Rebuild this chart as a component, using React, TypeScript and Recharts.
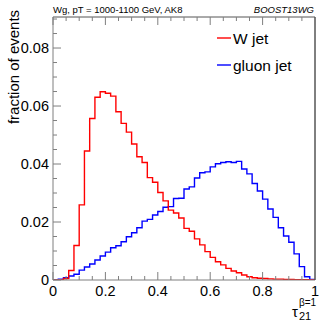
import { LineChart, Line, XAxis, YAxis } from 'recharts';

// lower edges of the 50 bins (width 0.02)
const BIN_LOW = [
  0, 0.02, 0.04, 0.06, 0.08, 0.1, 0.12, 0.14, 0.16, 0.18,
  0.2, 0.22, 0.24, 0.26, 0.28, 0.3, 0.32, 0.34, 0.36, 0.38,
  0.4, 0.42, 0.44, 0.46, 0.48, 0.5, 0.52, 0.54, 0.56, 0.58,
  0.6, 0.62, 0.64, 0.66, 0.68, 0.7, 0.72, 0.74, 0.76, 0.78,
  0.8, 0.82, 0.84, 0.86, 0.88, 0.9, 0.92, 0.94, 0.96, 0.98,
];
const X_END = 1;

const W_JET = [
  0, 0, 0.0005, 0.0033, 0.0119, 0.0259, 0.0445, 0.0557, 0.063, 0.0649,
  0.0644, 0.0634, 0.058, 0.054, 0.051, 0.0469, 0.0425, 0.0405, 0.0353, 0.0337,
  0.0302, 0.0273, 0.0241, 0.0231, 0.0214, 0.0178, 0.0168, 0.0142, 0.0121, 0.0098,
  0.0078, 0.0063, 0.0052, 0.004, 0.0031, 0.0025, 0.0017, 0.0011, 0.0008, 0.0006,
  0.0005, 0.0004, 0.0003, 0.0003, 0.0002, 0.0002, 0.0001, 0.0001, 0.0001, 0,
];

const GLUON_JET = [
  0.0001, 0.0003, 0.0008, 0.0014, 0.002, 0.0034, 0.0045, 0.0055, 0.0069, 0.0083,
  0.0096, 0.0111, 0.0118, 0.0132, 0.0149, 0.0163, 0.018, 0.0203, 0.0209, 0.0224,
  0.0236, 0.0251, 0.0253, 0.0281, 0.0282, 0.0314, 0.0321, 0.0352, 0.037, 0.0373,
  0.039, 0.0401, 0.0405, 0.0408, 0.0405, 0.0409, 0.0383, 0.0366, 0.0333, 0.0307,
  0.0279, 0.0245, 0.0216, 0.018, 0.0152, 0.013, 0.009, 0.0046, 0.0011, 0.0002,
];

const X_TICKS = [
  0, 0.05, 0.1, 0.15, 0.2, 0.25, 0.3, 0.35, 0.4, 0.45, 0.5,
  0.55, 0.6, 0.65, 0.7, 0.75, 0.8, 0.85, 0.9, 0.95, 1,
];
const X_LABELS = [
  '0', '', '', '', '0.2', '', '', '', '0.4', '', '',
  '', '0.6', '', '', '', '0.8', '', '', '', '1',
];
const Y_TICKS = [
  0, 0.005, 0.01, 0.015, 0.02, 0.025, 0.03, 0.035, 0.04, 0.045,
  0.05, 0.055, 0.06, 0.065, 0.07, 0.075, 0.08, 0.085, 0.09,
];
const Y_LABELS = [
  '0', '', '', '', '0.02', '', '', '', '0.04', '',
  '', '', '0.06', '', '', '', '0.08', '', '',
];
const Y_MAX = 0.0907;

const FONT = '"Liberation Sans", Arial, Helvetica, sans-serif';
const AXIS_GREY = '#7f7f7f';

const data = [
  ...BIN_LOW.map((x, i) => ({ x, w: W_JET[i], g: GLUON_JET[i] })),
  { x: X_END, w: W_JET[W_JET.length - 1], g: GLUON_JET[GLUON_JET.length - 1] },
];

const isMajorX = (i: number) => X_LABELS[i] !== '';
const isMajorY = (i: number) => Y_LABELS[i] !== '';

function BottomTick({ x, y, index }: any) {
  const major = isMajorX(index);
  return (
    <g>
      <line x1={x} x2={x} y1={y} y2={y - (major ? 8 : 4)} stroke={AXIS_GREY} />
      {major && (
        <text x={x} y={y + 16} textAnchor="middle" fontSize={14.5} fontFamily={FONT} fill="#000">
          {X_LABELS[index]}
        </text>
      )}
    </g>
  );
}

function TopTick({ x, y, index }: any) {
  const major = isMajorX(index);
  return <line x1={x} x2={x} y1={y} y2={y + (major ? 8 : 4)} stroke={AXIS_GREY} />;
}

function LeftTick({ x, y, index }: any) {
  const major = isMajorY(index);
  return (
    <g>
      <line x1={x} x2={x + (major ? 8 : 4)} y1={y} y2={y} stroke={AXIS_GREY} />
      {major && (
        <text x={x - 4} y={y + 5} textAnchor="end" fontSize={14.5} fontFamily={FONT} fill="#000">
          {Y_LABELS[index]}
        </text>
      )}
    </g>
  );
}

function RightTick({ x, y, index }: any) {
  const major = isMajorY(index);
  return <line x1={x} x2={x - (major ? 8 : 4)} y1={y} y2={y} stroke={AXIS_GREY} />;
}

export default function App() {
  return (
    <div style={{ position: 'absolute', left: 0, top: 0, width: 332, height: 322, background: '#fff' }}>
      <LineChart
        width={332}
        height={322}
        data={data}
        margin={{ top: 16, right: 16, bottom: 41, left: 52 }}
      >
        <XAxis
          xAxisId="b"
          dataKey="x"
          type="number"
          domain={[0, 1]}
          ticks={X_TICKS}
          interval={0}
          height={1}
          tickSize={0}
          tickMargin={0}
          tick={<BottomTick />}
          axisLine={{ stroke: AXIS_GREY }}
          allowDataOverflow
        />
        <XAxis
          xAxisId="t"
          orientation="top"
          dataKey="x"
          type="number"
          domain={[0, 1]}
          ticks={X_TICKS}
          interval={0}
          height={1}
          tickSize={0}
          tickMargin={0}
          tick={<TopTick />}
          axisLine={{ stroke: '#555' }}
        />
        <YAxis
          yAxisId="l"
          type="number"
          domain={[0, Y_MAX]}
          ticks={Y_TICKS}
          interval={0}
          width={1}
          tickSize={0}
          tickMargin={0}
          tick={<LeftTick />}
          axisLine={{ stroke: AXIS_GREY }}
          allowDataOverflow
        />
        <YAxis
          yAxisId="r"
          orientation="right"
          type="number"
          domain={[0, Y_MAX]}
          ticks={Y_TICKS}
          interval={0}
          width={1}
          tickSize={0}
          tickMargin={0}
          tick={<RightTick />}
          axisLine={{ stroke: '#000' }}
        />
        <Line xAxisId="b" yAxisId="l" type="stepAfter" dataKey="g" stroke="#0000ff" strokeWidth={1.4} dot={false} isAnimationActive={false} />
        <Line xAxisId="b" yAxisId="l" type="stepAfter" dataKey="w" stroke="#ff0000" strokeWidth={1.4} dot={false} isAnimationActive={false} />
      </LineChart>
      <svg width={332} height={322} style={{ position: 'absolute', left: 0, top: 0, pointerEvents: 'none' }}>
        <text x={53} y={13} fontSize={9.5} fontFamily={FONT} fill="#000">Wg, pT = 1000-1100 GeV, AK8</text>
        <text x={314} y={13} fontSize={9.5} fontFamily={FONT} fontStyle="italic" textAnchor="end" fill="#000">BOOST13WG</text>
        <text x={19} y={67} fontSize={15} fontFamily={FONT} textAnchor="middle" transform="rotate(-90 19 67)" fill="#000">fraction of events</text>
        <line x1={217} x2={231} y1={38} y2={38} stroke="#ff0000" strokeWidth={1.4} />
        <text x={233} y={44} fontSize={15.5} fontFamily={FONT} fill="#000">W jet</text>
        <line x1={217} x2={231} y1={65} y2={65} stroke="#0000ff" strokeWidth={1.4} />
        <text x={233} y={71} fontSize={15.5} fontFamily={FONT} fill="#000">gluon jet</text>
        <text x={292} y={317} fontSize={15} fontFamily={FONT} fill="#000">τ</text>
        <text x={299} y={320} fontSize={11} fontFamily={FONT} fill="#000">21</text>
        <text x={299} y={306} fontSize={10} fontFamily={FONT} fill="#000">β=1</text>
      </svg>
    </div>
  );
}
